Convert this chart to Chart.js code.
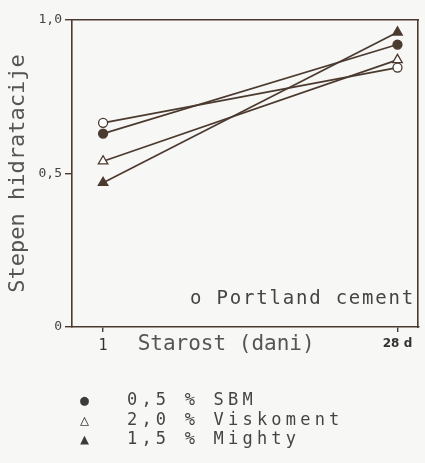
<!DOCTYPE html>
<html lang="sr">
<head>
  <meta charset="UTF-8" />
  <title>Stepen hidratacije</title>
  <style>
    body {
      margin: 0;
      background: #f7f7f6;
      font-family: 'DejaVu Sans Mono', monospace;
      color: #4a4a4a;
    }

    .wrap {
      position: relative;
      width: 425px;
      height: 463px;
    }

    .note {
      position: absolute;
      left: 190px;
      top: 286px;
      font-size: 19px;
      letter-spacing: 1.8px;
      white-space: pre;
      color: #444;
    }

    .legend {
      position: absolute;
      left: 80px;
      top: 390px;
      font-size: 17px;
      line-height: 18.5px;
      color: #444;
    }

    .legend div {
      white-space: pre;
    }

    .legend .mark {
      display: inline-block;
      width: 47px;
      font-size: 15px;
      color: #3b3b3b;
      letter-spacing: 0;
    }

    .legend .txt {
      letter-spacing: 4.2px;
    }
  </style>
</head>
<body>

  <div class="wrap">
    <canvas id="chart" width="425" height="463"></canvas>
    <div class="note">o Portland cement</div>
    <div class="legend">
      <div><span class="mark">●</span><span class="txt">0,5 % SBM</span></div>
      <div><span class="mark">△</span><span class="txt">2,0 % Viskoment</span></div>
      <div><span class="mark">▲</span><span class="txt">1,5 % Mighty</span></div>
    </div>
  </div>

  <script src="https://cdn.jsdelivr.net/npm/chart.js"></script>
  <script>
    // values
    const days = [1, 28];
    const portland = [0.665, 0.845];
    const sbm = [0.63, 0.92];
    const viskoment = [0.54, 0.87];
    const mighty = [0.47, 0.96];

    const yTickValues = [0, 0.5, 1.0];
    const yTickLabels = ['0', '0,5', '1,0'];
    const xTickLabels = ['1', '28 d'];

    const ink = '#4b3a2f';
    const textGrey = '#555';

    Chart.defaults.font.family = "'DejaVu Sans Mono', monospace";
    Chart.defaults.color = textGrey;

    function pts(vals) {
      return days.map((d, i) => ({ x: d, y: vals[i] }));
    }

    function series(label, vals, style, fill) {
      return {
        label: label,
        data: pts(vals),
        borderColor: ink,
        borderWidth: 1.7,
        pointStyle: style,
        pointRadius: style === 'triangle' ? 5.5 : 4.5,
        pointBackgroundColor: fill,
        pointBorderColor: ink,
        pointBorderWidth: 1.3,
        tension: 0
      };
    }

    new Chart(document.getElementById('chart'), {
      type: 'line',
      data: {
        datasets: [
          series('Portland cement', portland, 'circle', '#ffffff'),
          series('0,5 % SBM', sbm, 'circle', ink),
          series('2,0 % Viskoment', viskoment, 'triangle', '#ffffff'),
          series('1,5 % Mighty', mighty, 'triangle', ink)
        ]
      },
      options: {
        responsive: false,
        animation: false,
        devicePixelRatio: 1,
        layout: { padding: { top: 20, right: 6, left: 0, bottom: 0 } },
        plugins: {
          legend: { display: false },
          tooltip: { enabled: false }
        },
        scales: {
          x: {
            type: 'linear',
            min: -1.85,
            max: 29.9,
            afterBuildTicks: s => { s.ticks = days.map(v => ({ value: v })); },
            afterFit: s => { s.height = 136; },
            border: { color: ink, width: 1.6 },
            grid: { drawOnChartArea: false, tickLength: 5, color: ink, lineWidth: 1.4 },
            ticks: {
              autoSkip: false,
              maxRotation: 0,
              padding: 5,
              color: '#333',
              callback: v => xTickLabels[days.indexOf(v)],
              font: c => c.tick && c.tick.value === 28
                ? { family: "'DejaVu Sans', sans-serif", size: 12, weight: 'bold' }
                : { size: 15 }
            },
            title: {
              display: true,
              text: 'Starost (dani)   ',
              font: { size: 21 },
              color: textGrey,
              padding: { top: 0, bottom: 106 }
            }
          },
          y: {
            min: 0,
            max: 1,
            afterBuildTicks: s => { s.ticks = yTickValues.map(v => ({ value: v })); },
            afterFit: s => { s.width = 72; },
            border: { color: ink, width: 1.6 },
            grid: { drawOnChartArea: false, tickLength: 7, color: ink, lineWidth: 1.4 },
            ticks: {
              padding: 3,
              color: '#444',
              font: { size: 13 },
              callback: v => yTickLabels[yTickValues.indexOf(v)]
            },
            title: {
              display: true,
              text: 'Stepen hidratacije',
              font: { size: 22 },
              color: textGrey,
              padding: { top: 5, bottom: 0 }
            }
          },
          top: {
            type: 'linear',
            position: 'top',
            afterFit: s => { s.height = 0; },
            border: { color: ink, width: 1.6 },
            grid: { drawOnChartArea: false, drawTicks: false },
            ticks: { display: false }
          },
          right: {
            type: 'linear',
            position: 'right',
            afterFit: s => { s.width = 0; },
            border: { color: ink, width: 1.6 },
            grid: { drawOnChartArea: false, drawTicks: false },
            ticks: { display: false }
          }
        }
      }
    });
  </script>

</body>
</html>
